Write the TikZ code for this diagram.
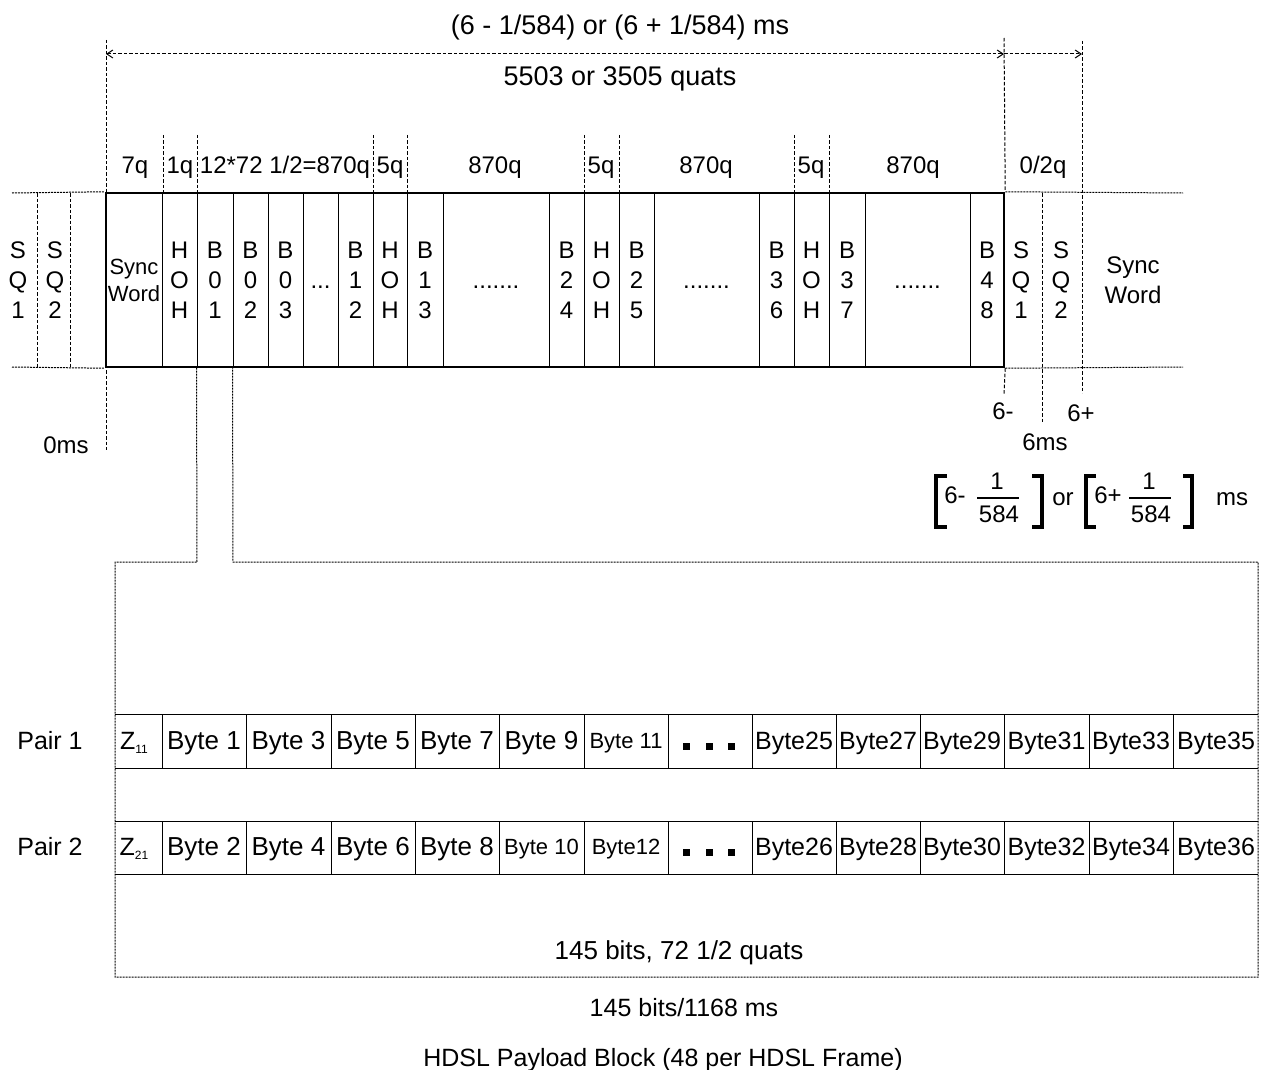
\documentclass[tikz,border=0pt]{standalone}
\usepackage{fontspec}
\setmainfont{Liberation Sans}
\usetikzlibrary{arrows.meta}
\begin{document}
\begin{tikzpicture}[x=1pt,y=-1pt,
 tx/.style={inner sep=0pt, text height=18pt, text depth=0pt, font=\fontsize{25}{30}\selectfont},
 tl/.style={inner sep=0pt, text height=18.6pt, text depth=0pt, font=\fontsize{26}{30}\selectfont},
 tbig/.style={inner sep=0pt, text height=19.3pt, text depth=0pt, font=\fontsize{27}{30}\selectfont},
 tm/.style={inner sep=0pt, text height=17.2pt, text depth=0pt, font=\fontsize{24}{30}\selectfont},
 tsm/.style={inner sep=0pt, text height=15.8pt, text depth=0pt, font=\fontsize{22}{26}\selectfont},
 stack/.style={inner sep=0pt, align=center, font=\fontsize{24}{30}\selectfont},
 cell/.style={draw, line width=1pt, inner sep=0pt, minimum height=174},
 dotcell/.style={inner sep=0pt, text height=17pt, text depth=0pt, font=\fontsize{24}{30}\selectfont},
 gdash/.style={line width=1pt, dash pattern=on 3.5pt off 2pt},
 gdot/.style={line width=1pt, dash pattern=on 2pt off 1pt},
 sepline/.style={line width=1pt},
 brk/.style={line width=4.5pt, line cap=butt, line join=miter},
 barb/.tip={Straight Barb[length=6pt,width=8pt]},
 sqbox/.style={fill, inner sep=0pt, minimum size=7pt},
]
\useasboundingbox (0,0) rectangle (1261,1070);

% ---- main frame cells ----
\node[cell, minimum width=56, inner sep=0pt, align=center, font=\fontsize{22}{27}\selectfont] (sw) at (134,280) {Sync\\Word};
\foreach \a/\b/\lab [count=\i] in {162/197/{H\\O\\H}, 197/233/{B\\0\\1}, 233/268/{B\\0\\2}, 268/303/{B\\0\\3}, 338/373/{B\\1\\2}, 373/407/{H\\O\\H}, 407/443/{B\\1\\3}, 549/584/{B\\2\\4}, 584/619/{H\\O\\H}, 619/654/{B\\2\\5}, 759/794/{B\\3\\6}, 794/829/{H\\O\\H}, 829/865/{B\\3\\7}, 970/1004/{B\\4\\8}}
{ \node[cell, stack, minimum width={\b-\a}] (f\i) at ({(\a+\b)/2},280) {\lab}; }
\foreach \a/\b/\lab [count=\i] in {303/338/{...}, 443/549/{.......}, 654/759/{.......}, 865/970/{.......}}
{ \node[cell, dotcell, minimum width={\b-\a}] (d\i) at ({(\a+\b)/2},280) {\lab}; }
\node[draw, line width=2.5pt, inner sep=0pt, minimum width=898, minimum height=174] (frame) at (555,280) {};

% ---- outside left ----
\coordinate (lt) at (12,193); \coordinate (lb) at (12,367);
\draw[gdot] (lt) -- (frame.north west);
\draw[gdot] (lb) -- (frame.south west);
\coordinate (s1t) at (37,193); \coordinate (s1b) at (37,367);
\coordinate (s2t) at (70,193); \coordinate (s2b) at (70,367);
\draw[gdash] (s1t) -- (s1b);
\draw[gdash] (s2t) -- (s2b);
\node[stack] (lsq1) at (18,280) {S\\Q\\1};
\node[stack] (lsq2) at (55,280) {S\\Q\\2};

% ---- outside right ----
\coordinate (rt) at (1183,193); \coordinate (rb) at (1183,367);
\draw[gdot] (frame.north east) -- (rt);
\draw[gdot] (frame.south east) -- (rb);
\node[stack] (rsq1) at (1021,280) {S\\Q\\1};
\node[stack] (rsq2) at (1061,280) {S\\Q\\2};
\node[inner sep=0pt, align=center, font=\fontsize{24}{30}\selectfont] (rsw) at (1133,280) {Sync\\Word};

% ---- vertical guide lines ----
\coordinate (v0t) at (106,40); \coordinate (v0b) at (106,450);
\draw[gdash] (v0t) -- (v0b);
\coordinate (v1t) at (1004,38); \coordinate (v1b) at (1004,395);
\draw[gdash] (v1t) -- (frame.north east);
\draw[gdash] (frame.south east) -- (v1b);
\coordinate (v2t) at (1082,41); \coordinate (v2b) at (1082,393);
\draw[gdash] (v2t) -- (v2b);
\coordinate (v3t) at (1042,193); \coordinate (v3b) at (1042,423);
\draw[gdash] (v3t) -- (v3b);
\foreach \x in {163,197,373,407,584,619,794,829}
{ \coordinate (qt\x) at (\x,135); \coordinate (qb\x) at (\x,193); \draw[gdash] (qt\x) -- (qb\x); }

% ---- dimension arrows ----
\coordinate (a0) at (106,54); \coordinate (a1) at (1004,54); \coordinate (a2) at (1082,54);
\draw[gdash, barb-barb] (a0) -- (a1);
\draw[gdash, -barb] (a1) -- (a2);
\node[tbig] (title) at (620,25) {(6 - 1/584) or (6 + 1/584) ms};
\node[tbig] (quats) at (620,76) {5503 or 3505 quats};

% ---- segment labels ----
\node[tm] (q1) at (135,165) {7q};
\node[tm] (q2) at (180,165) {1q};
\node[tm] (q3) at (285,165) {12*72 1/2=870q};
\node[tm] (q4) at (390,165) {5q};
\node[tm] (q5) at (495,165) {870q};
\node[tm] (q6) at (601,165) {5q};
\node[tm] (q7) at (706,165) {870q};
\node[tm] (q8) at (811,165) {5q};
\node[tm] (q9) at (913,165) {870q};
\node[tm] (q10) at (1043,165) {0/2q};

% ---- time labels ----
\node[tm] (t0) at (66,445) {0ms};
\node[tm] (tminus) at (1003,411) {6-};
\node[tm] (tplus) at (1081,413) {6+};
\node[tm] (t6) at (1045,442) {6ms};

% ---- formula ----
\coordinate (b1a) at (947,476); \coordinate (b1b) at (936,476); \coordinate (b1c) at (936,527); \coordinate (b1d) at (947,527);
\draw[brk] (b1a) -- (b1b) -- (b1c) -- (b1d);
\coordinate (b2a) at (1032,476); \coordinate (b2b) at (1042,476); \coordinate (b2c) at (1042,527); \coordinate (b2d) at (1032,527);
\draw[brk] (b2a) -- (b2b) -- (b2c) -- (b2d);
\coordinate (b3a) at (1096,476); \coordinate (b3b) at (1086,476); \coordinate (b3c) at (1086,527); \coordinate (b3d) at (1096,527);
\draw[brk] (b3a) -- (b3b) -- (b3c) -- (b3d);
\coordinate (b4a) at (1183,476); \coordinate (b4b) at (1192,476); \coordinate (b4c) at (1192,527); \coordinate (b4d) at (1183,527);
\draw[brk] (b4a) -- (b4b) -- (b4c) -- (b4d);
\node[tm] (fm1) at (955,495) {6-};
\node[tm] (fn1) at (997,481) {1};
\node[tm] (fd1) at (999,514) {584};
\coordinate (fl1a) at (977,498); \coordinate (fl1b) at (1019,498);
\draw[line width=1.3pt] (fl1a) -- (fl1b);
\node[tm] (for) at (1063,497) {or};
\node[tm] (fm2) at (1108,495) {6+};
\node[tm] (fn2) at (1149,481) {1};
\node[tm] (fd2) at (1151,514) {584};
\coordinate (fl2a) at (1129,498); \coordinate (fl2b) at (1171,498);
\draw[line width=1.3pt] (fl2a) -- (fl2b);
\node[tm] (fms) at (1232,497) {ms};

% ---- payload block outline ----
\coordinate (p2) at (197,562); \coordinate (p3) at (115,562); \coordinate (p4) at (115,977);
\coordinate (p5) at (1258,977); \coordinate (p6) at (1258,562); \coordinate (p7) at (233,562);
\draw[gdot] (f2.south west) -- (p2) -- (p3) -- (p4) -- (p5) -- (p6) -- (p7) -- (f3.south west);

% ---- byte rows ----
\foreach \ya/\yb in {714/768, 821/874}
{ \coordinate (ra\ya) at (115,\ya); \coordinate (rb\ya) at (1258,\ya);
  \coordinate (rc\ya) at (115,\yb); \coordinate (rd\ya) at (1258,\yb);
  \draw[sepline] (ra\ya) -- (rb\ya);
  \draw[sepline] (rc\ya) -- (rd\ya);
  \foreach \x in {162,246,331,415,499,584,668,752,836,920,1004,1089,1173}
  { \coordinate (ct\x\ya) at (\x,\ya); \coordinate (cb\x\ya) at (\x,\yb); \draw[sepline] (ct\x\ya) -- (cb\x\ya); }
}
\node[tx] (pair1) at (50,740) {Pair 1};
\node[tx] (pair2) at (50,846) {Pair 2};
\node[tx] (z1) at (134,740) {Z\raisebox{-4pt}{\fontsize{12}{12}\selectfont 11}};
\node[tx] (z2) at (134,846) {Z\raisebox{-4pt}{\fontsize{12}{12}\selectfont 21}};
\foreach \x/\lab [count=\i] in {204/Byte 1, 288.5/Byte 3, 373/Byte 5, 457/Byte 7, 541.5/Byte 9}
{ \node[tl] (ra\i) at (\x,740) {\lab}; }
\foreach \x/\lab [count=\i from 6] in {794/Byte25, 878/Byte27, 962/Byte29, 1046.5/Byte31, 1131/Byte33, 1216/Byte35}
{ \node[tx] (ra\i) at (\x,740) {\lab}; }
\node[tsm] (ra12) at (626,741) {Byte 11};
\foreach \x/\lab [count=\i] in {204/Byte 2, 288.5/Byte 4, 373/Byte 6, 457/Byte 8}
{ \node[tl] (rb\i) at (\x,846) {\lab}; }
\foreach \x/\lab [count=\i from 5] in {794/Byte26, 878/Byte28, 962/Byte30, 1046.5/Byte32, 1131/Byte34, 1216/Byte36}
{ \node[tx] (rb\i) at (\x,846) {\lab}; }
\node[tsm] (rb11) at (541.5,847) {Byte 10};
\node[tsm] (rb12) at (626,847) {Byte12};
\foreach \x [count=\i] in {686,709,731}
{ \node[sqbox] (sa\i) at (\x,746) {}; \node[sqbox] (sb\i) at (\x,852) {}; }

% ---- bottom captions ----
\node[tl] (cap1) at (679,950) {145 bits, 72 1/2 quats};
\node[tx] (cap2) at (684,1007) {145 bits/1168 ms};
\node[tx] (cap3) at (663,1057) {HDSL Payload Block (48 per HDSL Frame)};
\end{tikzpicture}
\end{document}
